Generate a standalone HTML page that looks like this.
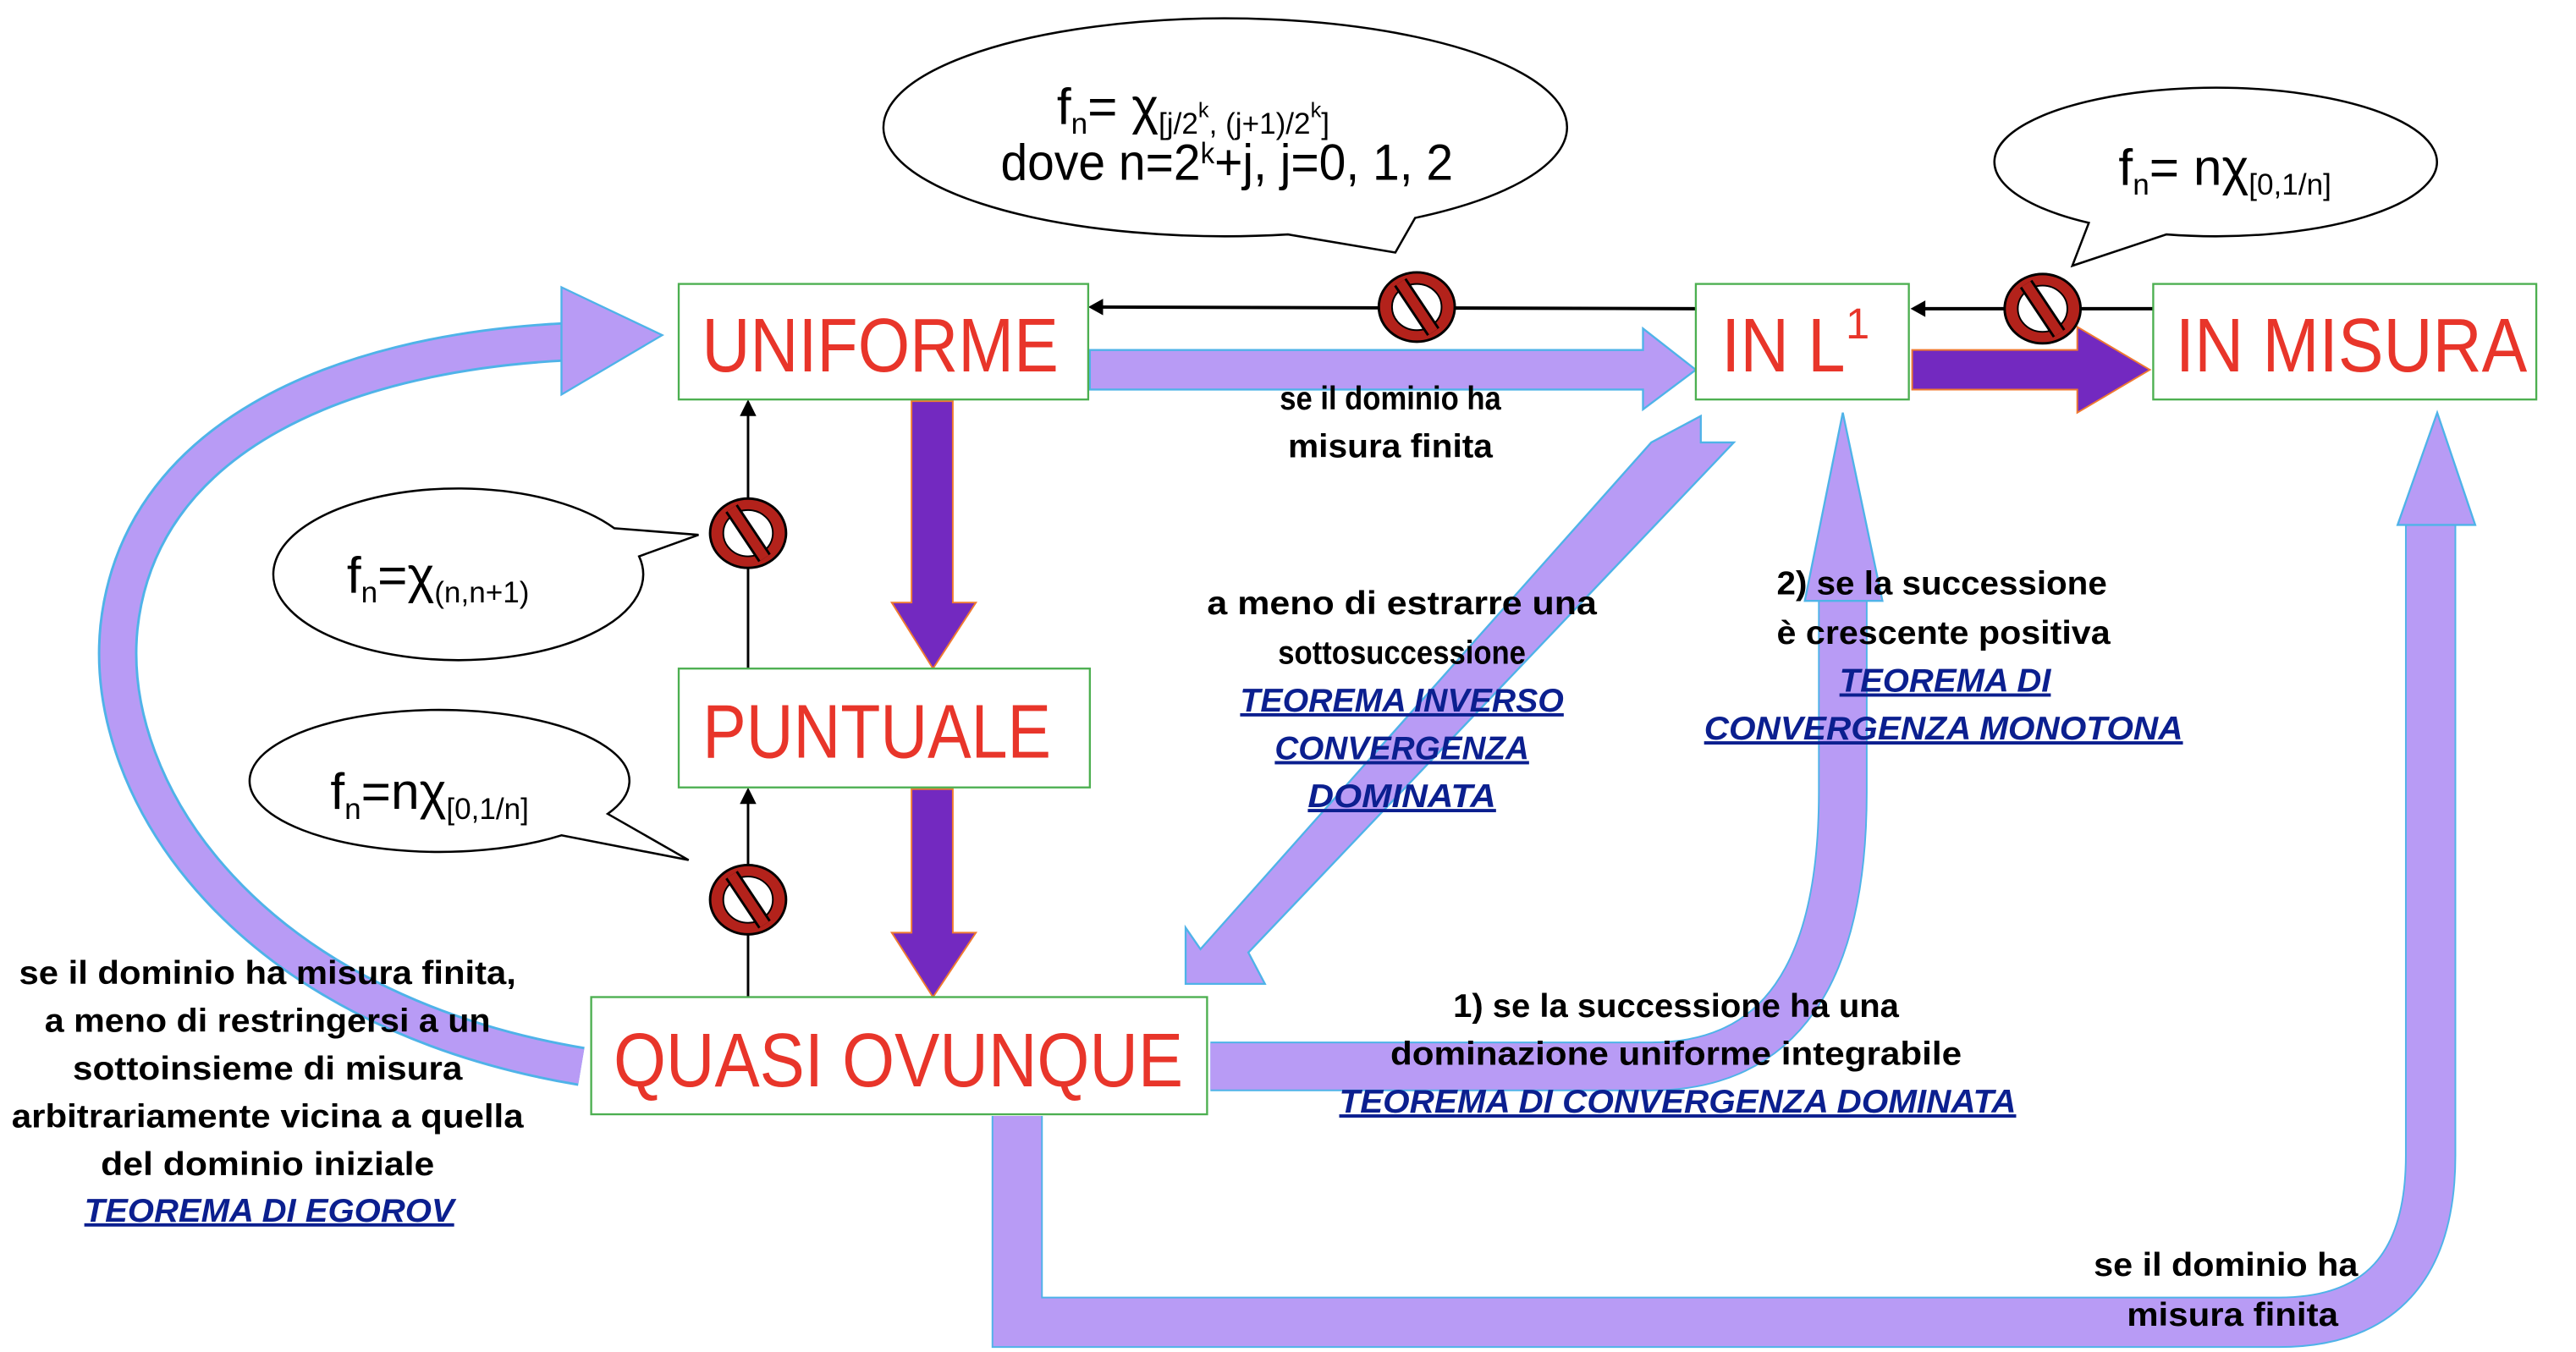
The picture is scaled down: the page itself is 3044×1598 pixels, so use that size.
<!DOCTYPE html>
<html><head><meta charset="utf-8"><style>
html,body{margin:0;padding:0;background:#fff;}
svg{display:block;}
.b{font-family:"Liberation Sans Narrow","Liberation Sans",sans-serif;font-weight:bold;font-size:20px;fill:#000;text-anchor:middle;}
.t{font-family:"Liberation Sans Narrow","Liberation Sans",sans-serif;font-weight:bold;font-style:italic;font-size:20px;fill:#0B1F8F;text-anchor:middle;text-decoration:underline;}
.r{font-family:"Liberation Sans Narrow","Liberation Sans",sans-serif;font-size:46px;fill:#E8352A;text-anchor:middle;}
.f{font-family:"Liberation Sans Narrow","Liberation Sans",sans-serif;font-size:31px;fill:#000;}
</style></head><body>
<svg width="3044" height="1598" viewBox="0 0 1560 819" xmlns="http://www.w3.org/2000/svg">
<defs>
<g id="no">
<ellipse cx="0" cy="0" rx="23" ry="21" fill="#B3221B" stroke="#000" stroke-width="1.5"/>
<ellipse cx="0" cy="0" rx="15" ry="14" fill="#fff" stroke="#000" stroke-width="1"/>
<line x1="-10" y1="-15" x2="10" y2="15" stroke="#000" stroke-width="9"/>
<line x1="-10" y1="-15" x2="10" y2="15" stroke="#B3221B" stroke-width="6"/>
</g>
</defs>

<!-- light purple big arc left -->
<path d="M352,646 C150,612 62,480 72,380 C84,268 200,214 344,207" fill="none" stroke="#4FB3E8" stroke-width="24"/>
<path d="M352,646 C150,612 62,480 72,380 C84,268 200,214 344,207" fill="none" stroke="#B89BF5" stroke-width="21"/>
<polygon points="340,174 401,203 340,239" fill="#B89BF5" stroke="#4FB3E8" stroke-width="1.2"/>

<!-- QUASI -> MISURA -->
<path d="M616,676 L616,801 L1380,801 Q1472,801 1472,700 L1472,318" fill="none" stroke="#4FB3E8" stroke-width="31"/>
<path d="M616,676 L616,801 L1380,801 Q1472,801 1472,700 L1472,318" fill="none" stroke="#B89BF5" stroke-width="29"/>
<polygon points="1452,318 1499,318 1476,250" fill="#B89BF5" stroke="#4FB3E8" stroke-width="1.2"/>

<!-- QUASI -> L1 -->
<path d="M733,646 L1000,646 Q1116,646 1116,480 L1116,362" fill="none" stroke="#4FB3E8" stroke-width="30"/>
<path d="M733,646 L1000,646 Q1116,646 1116,480 L1116,362" fill="none" stroke="#B89BF5" stroke-width="28"/>
<polygon points="1093,364 1140,364 1116,250" fill="#B89BF5" stroke="#4FB3E8" stroke-width="1.2"/>

<!-- L1 -> QUASI diagonal -->
<polygon points="1030,252 1030,268 1050,268 756,577 766,596 718,596 718,562 727,575 1000,268 1030,252" fill="#B89BF5" stroke="#4FB3E8" stroke-width="1.2"/>

<!-- UNIFORME -> L1 -->
<polygon points="660,212 995,212 995,199 1027,224 995,248 995,236 660,236" fill="#B89BF5" stroke="#4FB3E8" stroke-width="1.2"/>

<!-- dark purple arrows -->
<polygon points="552,243 577,243 577,365 591,365 565,405 540,365 552,365" fill="#7329C0" stroke="#F07A30" stroke-width="1"/>
<polygon points="552,478 577,478 577,565 591,565 565,604 540,565 552,565" fill="#7329C0" stroke="#F07A30" stroke-width="1"/>
<polygon points="1158,212 1258,212 1258,198 1302,224 1258,250 1258,236 1158,236" fill="#7329C0" stroke="#F07A30" stroke-width="1"/>

<!-- black arrows -->
<line x1="1028" y1="187" x2="666" y2="186" stroke="#000" stroke-width="2"/>
<polygon points="659,186 668,181 668,191" fill="#000"/>
<line x1="1304" y1="187" x2="1164" y2="187" stroke="#000" stroke-width="2"/>
<polygon points="1157,187 1166,182 1166,192" fill="#000"/>
<line x1="453" y1="405" x2="453" y2="250" stroke="#000" stroke-width="1.5"/>
<polygon points="453,242 448,252 458,252" fill="#000"/>
<line x1="453" y1="604" x2="453" y2="485" stroke="#000" stroke-width="1.5"/>
<polygon points="453,477 448,487 458,487" fill="#000"/>
<use href="#no" x="858" y="186"/>
<use href="#no" x="1237" y="187"/>
<use href="#no" x="453" y="323"/>
<use href="#no" x="453" y="545"/>

<!-- boxes -->
<rect x="411" y="172" width="248" height="70" fill="#fff" stroke="#4CAF50" stroke-width="1.2"/>
<rect x="1027" y="172" width="129" height="70" fill="#fff" stroke="#4CAF50" stroke-width="1.2"/>
<rect x="1304" y="172" width="232" height="70" fill="#fff" stroke="#4CAF50" stroke-width="1.2"/>
<rect x="411" y="405" width="249" height="72" fill="#fff" stroke="#4CAF50" stroke-width="1.2"/>
<rect x="358" y="604" width="373" height="71" fill="#fff" stroke="#4CAF50" stroke-width="1.2"/>
<text class="r" x="533" y="225" textLength="216" lengthAdjust="spacingAndGlyphs">UNIFORME</text>
<text class="r" x="1080" y="225" textLength="75" lengthAdjust="spacingAndGlyphs">IN L</text>
<text class="r" x="1125" y="205" style="font-size:26px" >1</text>
<text class="r" x="1424" y="225" textLength="213" lengthAdjust="spacingAndGlyphs">IN MISURA</text>
<text class="r" x="531" y="459" textLength="211" lengthAdjust="spacingAndGlyphs">PUNTUALE</text>
<text class="r" x="544" y="658" textLength="345" lengthAdjust="spacingAndGlyphs">QUASI OVUNQUE</text>

<!-- bubbles -->
<path d="M780,142 A207,66 0 1 1 857,132 L845,153 Z" fill="#fff" stroke="#000" stroke-width="1.3"/>
<path d="M1265,135 A134,45 0 1 1 1312,142 L1255,161 Z" fill="#fff" stroke="#000" stroke-width="1.3"/>
<path d="M387,337 A112,52 0 1 1 372,320 L423,324 Z" fill="#fff" stroke="#000" stroke-width="1.3"/>
<path d="M340,506 A115,43 0 1 1 368,493 L417,521 Z" fill="#fff" stroke="#000" stroke-width="1.3"/>

<text class="f" x="640" y="75">f<tspan font-size="18" dy="6">n</tspan><tspan dy="-6">= χ</tspan><tspan font-size="18" dy="6">[j/2</tspan><tspan font-size="13" dy="-10">k</tspan><tspan font-size="18" dy="10">, (j+1)/2</tspan><tspan font-size="13" dy="-10">k</tspan><tspan font-size="18" dy="10">]</tspan></text>
<text class="f" x="606" y="109" textLength="274" lengthAdjust="spacingAndGlyphs">dove n=2<tspan font-size="18" dy="-10">k</tspan><tspan dy="10">+j, j=0, 1, 2</tspan></text>
<text class="f" x="1283" y="112">f<tspan font-size="18" dy="6">n</tspan><tspan dy="-6">= nχ</tspan><tspan font-size="18" dy="6">[0,1/n]</tspan></text>
<text class="f" x="210" y="359">f<tspan font-size="18" dy="6">n</tspan><tspan dy="-6">=χ</tspan><tspan font-size="18" dy="6">(n,n+1)</tspan></text>
<text class="f" x="200" y="490">f<tspan font-size="18" dy="6">n</tspan><tspan dy="-6">=nχ</tspan><tspan font-size="18" dy="6">[0,1/n]</tspan></text>

<!-- labels -->
<text class="b" x="842" y="248" textLength="134" lengthAdjust="spacingAndGlyphs">se il dominio ha</text>
<text class="b" x="842" y="277" textLength="124" lengthAdjust="spacingAndGlyphs">misura finita</text>
<text class="b" x="849" y="372" textLength="236" lengthAdjust="spacingAndGlyphs">a meno di  estrarre una</text>
<text class="b" x="849" y="402" textLength="150" lengthAdjust="spacingAndGlyphs">sottosuccessione</text>
<text class="t" x="849" y="431" textLength="196" lengthAdjust="spacingAndGlyphs">TEOREMA INVERSO</text>
<text class="t" x="849" y="460" textLength="154" lengthAdjust="spacingAndGlyphs">CONVERGENZA</text>
<text class="t" x="849" y="489" textLength="114" lengthAdjust="spacingAndGlyphs">DOMINATA</text>
<text class="b" x="1176" y="360" textLength="200" lengthAdjust="spacingAndGlyphs">2) se la successione</text>
<text class="b" x="1177" y="390" textLength="202" lengthAdjust="spacingAndGlyphs">è crescente positiva</text>
<text class="t" x="1178" y="419" textLength="128" lengthAdjust="spacingAndGlyphs">TEOREMA DI</text>
<text class="t" x="1177" y="448" textLength="290" lengthAdjust="spacingAndGlyphs">CONVERGENZA MONOTONA</text>
<text class="b" x="1015" y="616" textLength="270" lengthAdjust="spacingAndGlyphs">1) se la successione ha una</text>
<text class="b" x="1015" y="645" textLength="346" lengthAdjust="spacingAndGlyphs">dominazione uniforme integrabile</text>
<text class="t" x="1016" y="674" textLength="410" lengthAdjust="spacingAndGlyphs">TEOREMA DI CONVERGENZA DOMINATA</text>
<text class="b" x="162" y="596" textLength="301" lengthAdjust="spacingAndGlyphs">se il dominio ha misura finita,</text>
<text class="b" x="162" y="625" textLength="270" lengthAdjust="spacingAndGlyphs">a meno di restringersi a un</text>
<text class="b" x="162" y="654" textLength="236" lengthAdjust="spacingAndGlyphs">sottoinsieme di misura</text>
<text class="b" x="162" y="683" textLength="310" lengthAdjust="spacingAndGlyphs">arbitrariamente vicina a quella</text>
<text class="b" x="162" y="712" textLength="202" lengthAdjust="spacingAndGlyphs">del dominio iniziale</text>
<text class="t" x="163" y="740" textLength="224" lengthAdjust="spacingAndGlyphs">TEOREMA DI EGOROV</text>
<text class="b" x="1348" y="773" textLength="160" lengthAdjust="spacingAndGlyphs">se il dominio ha</text>
<text class="b" x="1352" y="803" textLength="128" lengthAdjust="spacingAndGlyphs">misura finita</text>
</svg>
</body></html>
